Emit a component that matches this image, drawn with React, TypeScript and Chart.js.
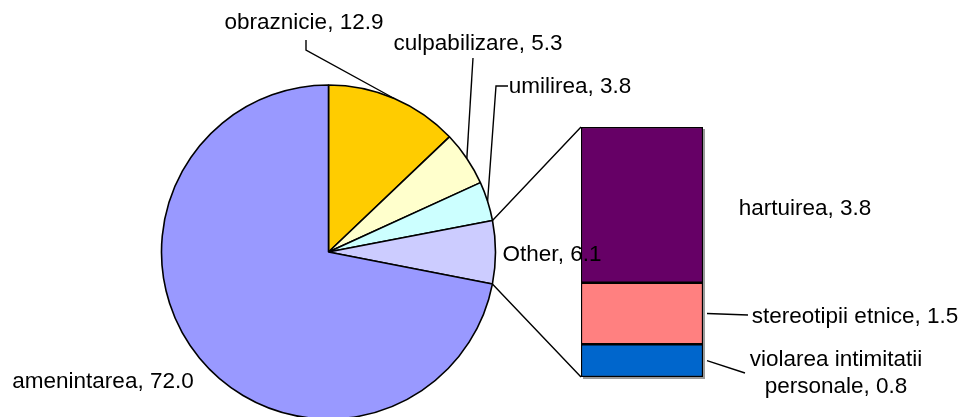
import { useEffect, useRef } from 'react';
import { Chart, registerables } from 'chart.js';

Chart.register(...registerables);

// ---- data ----
const pieLabels = ['obraznicie', 'culpabilizare', 'umilirea', 'Other', 'amenintarea'];
const pieValues = [12.9, 5.3, 3.8, 6.1, 72.0];
const pieColors = ['#FFCC00', '#FFFFCC', '#CCFFFF', '#CCCCFF', '#9999FF'];

// secondary bar (bottom -> top)
const barLabels = ['violarea intimitatii\npersonale', 'stereotipii etnice', 'hartuirea'];
const barValues = [0.8, 1.5, 3.8];
const barColors = ['#0066CC', '#FF8080', '#660066'];

const FONT = '22.5px "Liberation Sans", Arial, sans-serif';
const W = 967;
const H = 417;
const LINE_W = 1.4;

// label layout (text anchor centre x, baseline y, leader polyline from label toward the mark)
const pieLabelLayout = [
  { x: 304, y: 29, leader: [[306, 40], [306, 50]] },
  { x: 478, y: 50, leader: [[473, 58]] },
  { x: 570, y: 93, leader: [[508, 86], [496, 86]] },
  { x: 552, y: 261, leader: null },
  { x: 103, y: 388, leader: null },
];
const barLabelLayout = [
  { x: 836, y: 366, lineGap: 27, leader: [[745, 373]] },
  { x: 855, y: 323, lineGap: 27, leader: [[748, 315]] },
  { x: 805, y: 215, lineGap: 27, leader: null },
];

function fmt(name: string, v: number) {
  return `${name}, ${v.toFixed(1)}`;
}

export default function App() {
  const pieRef = useRef<HTMLCanvasElement>(null);
  const barRef = useRef<HTMLCanvasElement>(null);

  useEffect(() => {
    if (!pieRef.current || !barRef.current) return;

    const total = barValues.reduce((a, b) => a + b, 0);

    const barPlugin = {
      id: 'barExtras',
      beforeDatasetsDraw(chart: any) {
        const ctx = chart.ctx;
        const bottom = chart.getDatasetMeta(0).data[0] as any;
        const top = chart.getDatasetMeta(barValues.length - 1).data[0] as any;
        const left = top.x - top.width / 2;
        const right = top.x + top.width / 2;
        ctx.save();
        ctx.fillStyle = '#9a9a9a';
        ctx.fillRect(left + 2, top.y + 2, right - left, bottom.base - top.y);
        ctx.restore();
      },
      afterDatasetsDraw(chart: any) {
        const ctx = chart.ctx;
        ctx.save();
        ctx.font = FONT;
        ctx.fillStyle = '#000';
        ctx.strokeStyle = '#000';
        ctx.lineWidth = LINE_W;
        ctx.textAlign = 'center';
        ctx.textBaseline = 'alphabetic';
        barValues.forEach((v, i) => {
          const el = chart.getDatasetMeta(i).data[0] as any;
          const lay = barLabelLayout[i];
          const lines = fmt(barLabels[i], v).split('\n');
          lines.forEach((ln, k) => ctx.fillText(ln, lay.x, lay.y + k * lay.lineGap));
          if (lay.leader) {
            const mx = el.x + el.width / 2 + 4;
            const my = (el.y + el.base) / 2;
            ctx.beginPath();
            ctx.moveTo(mx, my);
            lay.leader.forEach((p) => ctx.lineTo(p[0], p[1]));
            ctx.stroke();
          }
        });
        ctx.restore();
      },
    };

    const barChart = new Chart(barRef.current, {
      type: 'bar',
      data: {
        labels: [''],
        datasets: barValues.map((v, i) => ({
          label: barLabels[i],
          data: [v],
          backgroundColor: barColors[i],
          borderColor: '#000',
          borderWidth: 1.5,
          borderSkipped: false,
          barPercentage: 1,
          categoryPercentage: 1,
        })),
      },
      options: {
        responsive: false,
        animation: false,
        layout: { padding: { left: 581, right: W - 703, top: 127, bottom: H - 377 } },
        plugins: { legend: { display: false }, tooltip: { enabled: false } },
        scales: {
          x: { stacked: true, display: false },
          y: { stacked: true, display: false, min: 0, max: total },
        },
      },
      plugins: [barPlugin],
    });

    const piePlugin = {
      id: 'pieExtras',
      afterDatasetsDraw(chart: any) {
        const ctx = chart.ctx;
        const arcs = chart.getDatasetMeta(0).data as any[];
        ctx.save();
        ctx.strokeStyle = '#000';
        ctx.lineWidth = LINE_W;
        // connector lines from "Other" slice to the secondary bar
        const other = arcs[3];
        const bTop = barChart.getDatasetMeta(barValues.length - 1).data[0] as any;
        const bBot = barChart.getDatasetMeta(0).data[0] as any;
        const bLeft = bTop.x - bTop.width / 2;
        const r = other.outerRadius;
        ctx.beginPath();
        ctx.moveTo(other.x + r * Math.cos(other.startAngle), other.y + r * Math.sin(other.startAngle));
        ctx.lineTo(bLeft, bTop.y);
        ctx.moveTo(other.x + r * Math.cos(other.endAngle), other.y + r * Math.sin(other.endAngle));
        ctx.lineTo(bLeft, bBot.base);
        ctx.stroke();

        ctx.font = FONT;
        ctx.fillStyle = '#000';
        ctx.textAlign = 'center';
        ctx.textBaseline = 'alphabetic';
        arcs.forEach((a, i) => {
          const lay = pieLabelLayout[i];
          if (lay.leader) {
            const mid = (a.startAngle + a.endAngle) / 2;
            const px = a.x + a.outerRadius * Math.cos(mid);
            const py = a.y + a.outerRadius * Math.sin(mid);
            ctx.beginPath();
            ctx.moveTo(lay.leader[0][0], lay.leader[0][1]);
            lay.leader.slice(1).forEach((p) => ctx.lineTo(p[0], p[1]));
            ctx.lineTo(px, py);
            ctx.stroke();
          }
          ctx.fillText(fmt(pieLabels[i], pieValues[i]), lay.x, lay.y);
        });
        ctx.restore();
      },
    };

    const pieChart = new Chart(pieRef.current, {
      type: 'pie',
      data: {
        labels: pieLabels,
        datasets: [
          {
            data: pieValues,
            backgroundColor: pieColors,
            borderColor: '#000',
            borderWidth: 1.6,
            radius: 167,
            clip: false,
          } as any,
        ],
      },
      options: {
        responsive: false,
        animation: false,
        layout: { padding: { left: 0, right: 310, top: 87, bottom: 0 } },
        plugins: { legend: { display: false }, tooltip: { enabled: false } },
      },
      plugins: [piePlugin],
    });

    return () => {
      pieChart.destroy();
      barChart.destroy();
    };
  }, []);

  return (
    <div
      style={{
        position: 'absolute',
        left: 0,
        top: 0,
        width: W,
        height: H,
        overflow: 'hidden',
        background: '#fff',
      }}
    >
      <canvas
        ref={barRef}
        width={W}
        height={H}
        style={{ position: 'absolute', left: 0, top: 0, width: W, height: H }}
      />
      <canvas
        ref={pieRef}
        width={W}
        height={H}
        style={{ position: 'absolute', left: 0, top: 0, width: W, height: H }}
      />
    </div>
  );
}
